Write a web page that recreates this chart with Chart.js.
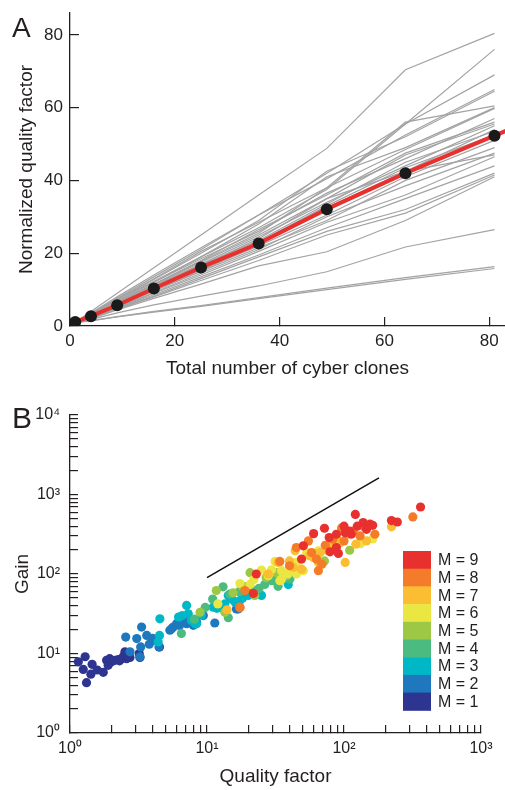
<!DOCTYPE html>
<html>
<head>
<meta charset="utf-8">
<script src="https://cdn.jsdelivr.net/npm/chart.js@4.4.1/dist/chart.umd.min.js"></script>
<style>
  body { margin: 0; background: #fff; }
  #wrap { position: relative; width: 505px; height: 790px; }
  canvas { position: absolute; left: 0; }
  .panel { position: absolute; left: 12px; font-family: 'Liberation Sans', Arial, sans-serif; color: #231f20; line-height: 1; }
</style>
</head>
<body>
<div id="wrap">
  <canvas id="chartA" width="505" height="390" style="top:0"></canvas>
  <canvas id="chartB" width="505" height="400" style="top:390px"></canvas>
  <div class="panel" style="top:14px;font-size:28px">A</div>
  <div class="panel" style="top:403px;font-size:30px">B</div>
</div>
<script>
// ---- panel A data ----
const cloneCounts = [1, 4, 9, 16, 25, 36, 49, 64, 81];
const meanQuality = [1.1, 2.7, 5.7, 10.3, 16.1, 22.7, 32.1, 42, 52.3];
const fitCounts = [1, 84];
const fitQuality = [0.9, 54.1];
const runs = [
    [1, 4, 9, 16, 25, 36, 48.8, 70.4, 80.4],
    [1, 3.4, 7.2, 12.3, 19, 27, 37.5, 55.5, 76],
    [1, 3.6, 8, 14, 21.5, 30.5, 42, 55.5, 69],
    [1, 3.5, 7.6, 13.5, 21, 30.5, 40.5, 52.5, 65],
    [1, 3.2, 7.2, 12.8, 20, 29, 42.5, 52, 64.5],
    [1, 3.3, 7.4, 13, 20.5, 28.5, 38, 56, 60.5],
    [1, 3.1, 6.8, 12, 19, 28, 41, 49, 60],
    [1, 2.9, 6.6, 11.5, 18, 26.5, 36, 47.5, 56],
    [1, 2.9, 6.3, 11.2, 17.5, 25, 35, 47, 55.5],
    [1, 2.8, 6.1, 11, 17, 24.5, 34, 44, 55],
    [1, 2.7, 6, 10.6, 16.5, 24, 35, 42.5, 54],
    [1, 2.6, 5.8, 10.2, 16, 23, 33, 43.5, 52.5],
    [1, 2.6, 5.6, 10, 15.5, 22, 30.5, 41, 51],
    [1, 2.5, 5.5, 9.6, 15, 21.5, 29, 40, 49],
    [1, 2.4, 5.2, 9.2, 14.5, 21, 30, 38.5, 47.5],
    [1, 2.5, 5.4, 9.6, 15.2, 22.5, 32.5, 42.5, 47],
    [1, 2.3, 5, 9, 14, 20.5, 28.5, 36, 46.5],
    [1, 2.3, 4.9, 8.6, 13.5, 19.5, 27, 35, 44],
    [1, 2.2, 4.7, 8.2, 13, 19, 26, 32, 42],
    [1, 2.1, 4.6, 8, 12.5, 18, 25, 31, 41.5],
    [1, 2, 4.4, 7.6, 11.5, 16.5, 20.4, 29, 41],
    [1, 1.8, 3.6, 5.8, 8.2, 11, 14.9, 21.7, 26.5],
    [1, 1.5, 2.6, 4, 5.6, 7.8, 10.4, 13.3, 16.3],
    [1, 1.4, 2.5, 3.8, 5.4, 7.5, 10, 12.8, 15.8],
    [1, 2.7, 6, 10.8, 16.8, 23.5, 33.5, 45, 53.5],
    [1, 3, 6.8, 12, 18.5, 26, 36.5, 46, 57],
    [1, 2.8, 6.4, 11.4, 17.8, 25.5, 38, 48.5, 59.8]
];
const cloneTicks = [0, 20, 40, 60, 80];
const qualityTicksA = [0, 20, 40, 60, 80];

// ---- panel B data ----
const m1 = [[1.15, 7.85], [1.29, 9.1], [1.25, 6.3], [1.32, 4.3], [1.45, 7.3], [1.42, 5.5], [1.58, 6.2], [1.75, 5.8],
    [1.85, 8.2], [1.9, 7.1], [2.01, 7.85], [2.13, 8.2], [2.25, 8.4], [2.38, 8.6], [2.52, 10], [2.59, 8.6], [2.74, 8.9],
    [3.2, 10], [3.24, 8.9], [2.45, 9.1], [2.3, 8.1], [1.95, 8.6], [2.6, 9.5], [2.52, 10.5], [4.5, 12.1]];
const m2 = [[3.33, 21.5], [2.55, 16.1], [3.07, 15.4], [3.63, 16.9], [3.79, 13.1], [3.28, 12.1], [4.17, 14.6], [4.46, 12.1],
    [2.74, 10.5], [5.52, 20.5], [6.0, 23.7], [7.1, 23.7], [7.94, 22.6], [6.9, 26], [11.4, 24.2], [16.4, 36.3], [5.67, 21.5],
    [5.36, 19.6], [3.24, 9.1], [4.0, 15.5], [8.4, 24.8], [6.3, 22.5], [16.9, 36.3], [9.4, 30]];
const m3 = [[4.53, 27.3], [4.5, 16.9], [4.4, 14], [7.1, 40.3], [7.3, 31.6], [6.2, 28.7], [8.4, 23.7], [9.1, 30.3],
    [11.1, 38.3], [12.4, 40.3], [14.3, 53.8], [17.4, 46.4], [20, 53.8], [25, 53.8], [39.2, 73.6], [12.8, 37.5], [14.7, 51],
    [16, 44.4], [7.7, 26], [8.2, 23.7], [20, 58.8], [11.8, 37], [13.5, 42], [18.2, 50], [22, 55], [15.2, 48], [6.6, 30]];
const m4 = [[6.5, 17.8], [9.7, 38], [13.1, 69], [14.7, 56], [19.4, 69], [21.8, 62], [26.4, 74], [29.7, 82.5], [35.9, 86.7],
    [11, 48.5], [14.3, 28.2], [31.4, 82.5], [40.3, 86.7], [17.2, 60], [24, 66], [8.1, 27], [33, 70]];
const m5 = [[11.7, 62], [20.6, 104], [32.3, 104], [13.5, 33], [8.9, 33], [22.3, 53.8], [110, 199], [72, 146], [15.5, 58],
    [27, 90], [38, 95], [18, 70]];
const m6 = [[17.4, 76], [25, 112], [29.6, 113], [34, 82.5], [35, 86.7], [42.6, 133], [39, 100], [44.9, 100], [20.6, 74],
    [31.4, 144], [53.5, 186], [65, 196], [132, 240], [162, 276], [44.9, 140], [35, 110], [50.5, 110], [12, 42], [28, 95], [22, 85]];
const m7 = [[222, 392], [49, 115], [65, 140], [67, 186], [81, 237], [56, 170], [44, 196], [105, 316], [94, 248], [122, 237],
    [146, 261], [102, 140], [28, 100], [14, 35.5], [33, 140], [40, 146], [42.6, 121], [75, 200], [88, 290], [60, 160]];
const m8 = [[44.9, 215], [55, 261], [58, 186], [83, 274], [96, 380], [117, 346], [131, 301], [141, 390], [168, 316],
    [318, 522], [63, 154], [69, 133], [65, 110], [40, 127], [34, 144], [17.4, 37.5], [18.9, 62], [17.4, 38.3], [73, 230], [100, 260]];
const m9 = [[362, 696], [222, 470], [245, 451], [121, 562], [138, 443], [155, 423], [162, 410], [146, 365], [110, 346],
    [102, 331], [113, 316], [88, 316], [72, 376], [60, 322], [78, 287], [88, 215], [79, 190], [91, 181], [50.5, 226],
    [49, 154], [22.9, 100], [21.8, 57], [125, 400], [100, 400]];
const groups = [m1, m2, m3, m4, m5, m6, m7, m8, m9];
const groupLabels = ['M = 1', 'M = 2', 'M = 3', 'M = 4', 'M = 5', 'M = 6', 'M = 7', 'M = 8', 'M = 9'];
const groupColors = ['#2e3590', '#1f78bd', '#00b8c5', '#4cbb7f', '#9cc845', '#eae642', '#fbbe33', '#f47b2a', '#e8312f'];
const guideQuality = [10, 180];
const guideGain = [90, 1620];
const qualityDecades = [1, 10, 100, 1000];
const qualityDecadeLabels = ['10⁰', '10¹', '10²', '10³'];
const gainDecades = [1, 10, 100, 1000, 10000];
const gainDecadeLabels = ['10⁰', '10¹', '10²', '10³', '10⁴'];
const minorSteps = [1, 2, 3, 4, 5, 6, 7, 8, 9];

const ink = '#231f20';
Chart.defaults.font.family = "'Liberation Sans', Arial, sans-serif";
Chart.defaults.color = ink;

function axisStyle(tickLen) {
    return {
        grid: { drawOnChartArea: false, drawTicks: true, tickLength: tickLen, color: ink, lineWidth: 1.2 },
        border: { display: true, color: ink, width: 1.3 }
    };
}

// fixed box size, and no extra room for the end labels
function fixBox(key, size) {
    return function (s) {
        s[key] = size;
        s.paddingTop = 0; s.paddingBottom = 0; s.paddingLeft = 0; s.paddingRight = 0;
    };
}

function logTicks(decades) {
    let out = [];
    decades.forEach(function (d, i) {
        if (i === decades.length - 1) { out.push(d); return; }
        minorSteps.forEach(function (s) { out.push(d * s); });
    });
    return out;
}

// ---- panel A ----
let datasetsA = runs.map(function (r) {
    return {
        type: 'line',
        data: cloneCounts.map(function (c, i) { return { x: c, y: r[i] }; }),
        borderColor: '#a3a3a3', borderWidth: 1.2, pointRadius: 0, order: 3
    };
});
datasetsA.push({
    type: 'line',
    data: cloneCounts.map(function (c, i) { return { x: c, y: meanQuality[i] }; })
        .concat([{ x: fitCounts[1], y: fitQuality[1] }]),
    borderColor: '#e8312f', borderWidth: 4, pointRadius: 0, order: 1
});
datasetsA.push({
    type: 'scatter',
    data: cloneCounts.map(function (c, i) { return { x: c, y: meanQuality[i] }; }),
    backgroundColor: '#1a1a1a', pointRadius: 6, pointBorderWidth: 0, order: 0
});

new Chart(document.getElementById('chartA').getContext('2d'), {
    type: 'line',
    data: { datasets: datasetsA },
    options: {
        responsive: false, animation: false,
        layout: { autoPadding: false, padding: { top: 13, right: 0, left: 0, bottom: 0 } },
        plugins: { legend: { display: false }, tooltip: { enabled: false } },
        scales: {
            x: Object.assign(axisStyle(-9), {
                type: 'linear', min: 0, max: 83,
                afterFit: fixBox('height', 64),
                afterBuildTicks: function (s) { s.ticks = cloneTicks.map(function (v) { return { value: v }; }); },
                ticks: { padding: 14, maxRotation: 0, autoSkip: false, font: { size: 17 }, color: ink },
                title: { display: true, text: 'Total number of cyber clones', font: { size: 19 }, color: ink, padding: { bottom: 10 } }
            }),
            y: Object.assign(axisStyle(-9), {
                type: 'linear', min: 0, max: 86,
                afterFit: fixBox('width', 70),
                afterBuildTicks: function (s) { s.ticks = qualityTicksA.map(function (v) { return { value: v }; }); },
                ticks: { padding: 16, autoSkip: false, font: { size: 17 }, color: ink },
                title: { display: true, text: 'Normalized quality factor', font: { size: 19 }, color: ink, padding: { top: 15 } }
            })
        }
    }
});

// ---- panel B ----
const legendBoxes = {
    id: 'legendBoxes',
    afterDraw(chart) {
        const ctx = chart.ctx;
        const left = 403, top = 161, w = 28, h = 17.7;
        ctx.save();
        ctx.font = "16px 'Liberation Sans', Arial, sans-serif";
        ctx.textBaseline = 'middle';
        for (let i = 0; i < groupLabels.length; i++) {
            const k = groupLabels.length - 1 - i;
            ctx.fillStyle = groupColors[k];
            ctx.fillRect(left, top + i * h, w, h + 0.5);
            ctx.fillStyle = ink;
            ctx.fillText(groupLabels[k], left + 35, top + i * h + h / 2 + 1);
        }
        ctx.restore();
    }
};

let datasetsB = groups.map(function (g, i) {
    return {
        type: 'scatter', label: groupLabels[i],
        data: g.map(function (p) { return { x: p[0], y: p[1] }; }),
        backgroundColor: groupColors[i], pointRadius: 4.6, pointBorderWidth: 0, order: 10 - i
    };
});
datasetsB.push({
    type: 'line',
    data: guideQuality.map(function (q, i) { return { x: q, y: guideGain[i] }; }),
    borderColor: '#111', borderWidth: 1.5, pointRadius: 0, order: 0
});

new Chart(document.getElementById('chartB').getContext('2d'), {
    type: 'scatter',
    data: { datasets: datasetsB },
    plugins: [legendBoxes],
    options: {
        responsive: false, animation: false,
        layout: { autoPadding: false, padding: { top: 25, right: 24, left: 0, bottom: 0 } },
        plugins: { legend: { display: false }, tooltip: { enabled: false } },
        scales: {
            x: Object.assign(axisStyle(-8), {
                type: 'logarithmic', min: 1, max: 1000,
                afterFit: fixBox('height', 57),
                afterBuildTicks: function (s) { s.ticks = logTicks(qualityDecades).map(function (v) { return { value: v }; }); },
                ticks: {
                    padding: 14, maxRotation: 0, autoSkip: false, font: { size: 16 }, color: ink,
                    callback: function (v) { const i = qualityDecades.indexOf(v); return i >= 0 ? qualityDecadeLabels[i] : ''; }
                },
                title: { display: true, text: 'Quality factor', font: { size: 19 }, color: ink, padding: { bottom: 2 } }
            }),
            y: Object.assign(axisStyle(-8), {
                type: 'logarithmic', min: 1, max: 10000,
                afterFit: fixBox('width', 70),
                afterBuildTicks: function (s) { s.ticks = logTicks(gainDecades).map(function (v) { return { value: v }; }); },
                ticks: {
                    padding: 18, autoSkip: false, font: { size: 16 }, color: ink,
                    callback: function (v) { const i = gainDecades.indexOf(v); return i >= 0 ? gainDecadeLabels[i] : ''; }
                },
                title: { display: true, text: 'Gain', font: { size: 19 }, color: ink, padding: { top: 11 } }
            })
        }
    }
});
</script>
</body>
</html>
